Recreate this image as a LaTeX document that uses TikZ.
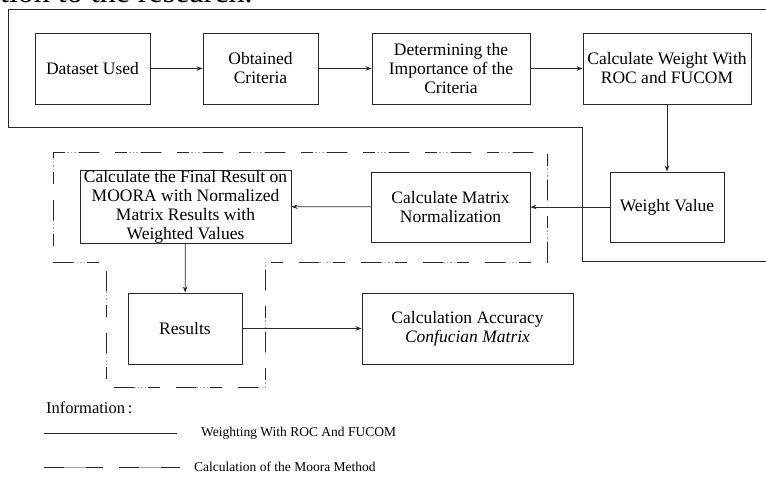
\documentclass[tikz,border=0pt]{standalone}
\usepackage{fontspec}
\setmainfont{Liberation Serif}
\usetikzlibrary{arrows.meta}
\definecolor{lc}{RGB}{40,40,40}
\definecolor{dotc}{RGB}{165,165,165}
\tikzset{
  box/.style={draw=lc, line width=0.9pt, inner sep=0pt, align=center,
    font=\fontsize{17.5}{19}\selectfont},
  conn/.style={draw=lc, line width=0.8pt, -{Stealth[length=6pt,width=4.5pt]}},
  wregion/.style={draw=lc, line width=0.9pt},
  mdots/.style={draw=dotc, line width=0.9pt,
    dash pattern=on 1.5pt off 2pt on 1.5pt off 2pt on 1.5pt off 2pt on 1.5pt off 2pt on 1.5pt off 2pt on 1.5pt off 2pt on 1.5pt off 2pt on 1.5pt off 2pt on 1.5pt off 2pt on 1.5pt off 2pt on 1.5pt off 2pt on 1.5pt off 2pt on 1.5pt off 2pt on 0.5pt off 16pt},
  mdash/.style={draw=lc, line width=0.9pt,
    dash pattern=on 12pt off 14pt on 20pt off 16pt},
  legtext/.style={anchor=west, inner sep=0pt, font=\fontsize{13.5}{16}\selectfont}
}
\begin{document}
\begin{tikzpicture}[x=1pt,y=-1pt]
\useasboundingbox (0,0) rectangle (766,479);
% caption fragment
\node[anchor=base west, inner sep=0pt, font=\fontsize{32}{32}\selectfont] (cap) at (0,2.5) {tion to the research.};
% regions
\draw[wregion] (770,9) -- (8,9) -- (8,127) -- (582,127) -- (582,261) -- (770,261);
\draw[mdots] (53,152) -- (547,152) -- (547,262) -- (265,262) -- (265,387) -- (106,387) -- (106,262) -- (53,262) -- cycle;
\draw[mdash] (53,152) -- (547,152) -- (547,262) -- (265,262) -- (265,387) -- (106,387) -- (106,262) -- (53,262) -- cycle;
% boxes
\node[box, minimum width=115pt, minimum height=71pt] (ds) at (92.5,68.5) {Dataset Used};
\node[box, minimum width=115pt, minimum height=71pt] (oc) at (260.5,68.5) {Obtained\\Criteria};
\node[box, minimum width=158pt, minimum height=71pt] (di) at (451,68.5) {Determining the\\Importance of the\\Criteria};
\node[box, minimum width=168pt, minimum height=71pt] (cw) at (667,68.5) {Calculate Weight With\\ROC and FUCOM};
\node[box, minimum width=114pt, minimum height=70pt] (wv) at (667,207) {Weight Value};
\node[box, minimum width=159pt, minimum height=70pt] (mn) at (450.5,207) {Calculate Matrix\\Normalization};
\node[box, minimum width=211pt, minimum height=71pt] (fr) at (185.5,206.5) {Calculate the Final Result on\\MOORA with Normalized\\Matrix Results with\\Weighted Values};
\node[box, minimum width=114pt, minimum height=71pt] (rs) at (185,328.5) {Results};
\node[box, minimum width=211pt, minimum height=71pt] (ca) at (467.5,328.5) {Calculation Accuracy\\\textit{Confucian Matrix}};
% connectors
\draw[conn] (ds) -- (oc);
\draw[conn] (oc) -- (di);
\draw[conn] (di) -- (cw);
\draw[conn] (cw) -- (wv);
\draw[conn] (wv) -- (mn);
\draw[conn] (mn) -- (fr);
\draw[conn] (fr) -- (rs);
\draw[conn] (rs) -- (ca);
% legend
\node[legtext, font=\fontsize{16.5}{18}\selectfont] (info) at (46,408) {Information\,:};
\coordinate (l1a) at (44,433);
\coordinate (l1b) at (177,433);
\draw[wregion] (l1a) -- (l1b);
\node[legtext] (t1) at (201,433) {Weighting With ROC And FUCOM};
\coordinate (l2a) at (44,467);
\coordinate (l2b) at (103,467);
\coordinate (l2c) at (119,467);
\coordinate (l2d) at (180,467);
\draw[draw=dotc, line width=0.9pt] (l2a) -- (l2b);
\draw[draw=dotc, line width=0.9pt] (l2c) -- (l2d);
\draw[draw=lc, line width=0.9pt, dash pattern=on 20pt off 22pt on 30pt] (l2a) -- (l2b);
\draw[draw=lc, line width=0.9pt, dash pattern=on 20pt off 22pt on 30pt] (l2c) -- (l2d);
\node[legtext] (t2) at (194,467) {Calculation of the Moora Method};
\end{tikzpicture}
\end{document}
